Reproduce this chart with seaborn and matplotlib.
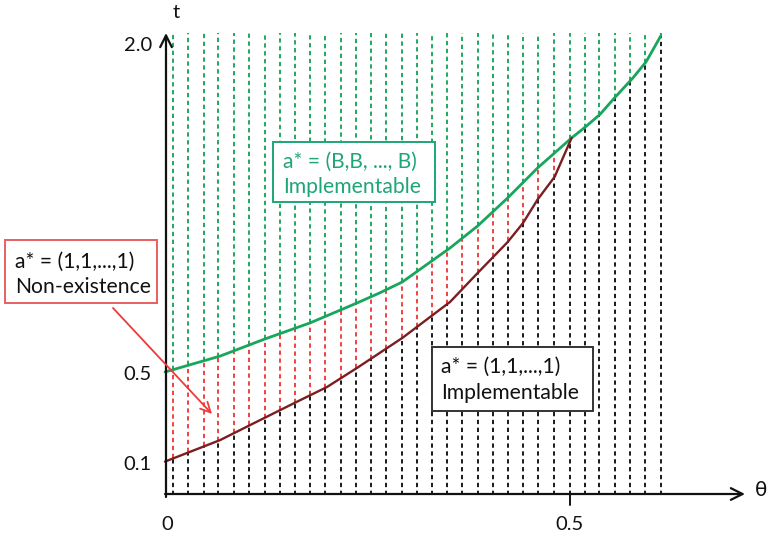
import numpy as np
import pandas as pd
import matplotlib
matplotlib.use("Agg")
import matplotlib.pyplot as plt
from matplotlib.patches import Rectangle
import seaborn as sns

# ---------------- data ----------------
green_theta = [0.000, 0.068, 0.123, 0.179, 0.237, 0.265, 0.293, 0.352, 0.386,
               0.423, 0.460, 0.502, 0.519, 0.537, 0.556, 0.577, 0.594, 0.612]
green_t = [0.500, 0.571, 0.647, 0.719, 0.808, 0.853, 0.902, 1.054, 1.152,
           1.277, 1.411, 1.545, 1.594, 1.650, 1.728, 1.810, 1.885, 2.000]

brown_theta = [0.000, 0.068, 0.105, 0.160, 0.200, 0.237, 0.293, 0.352, 0.386,
               0.423, 0.442, 0.460, 0.481, 0.502]
brown_t = [0.100, 0.196, 0.263, 0.362, 0.433, 0.518, 0.652, 0.813, 0.942,
           1.080, 1.165, 1.270, 1.371, 1.545]

grid_theta = [0.010, 0.029, 0.048, 0.066, 0.085, 0.104, 0.123, 0.142, 0.160,
              0.179, 0.198, 0.217, 0.236, 0.254, 0.273, 0.292, 0.311, 0.330,
              0.348, 0.367, 0.386, 0.405, 0.424, 0.442, 0.461, 0.480, 0.500,
              0.518, 0.536, 0.555, 0.574, 0.593, 0.612]

y_tick_values = [0.1, 0.5, 2.0]
y_tick_labels = ["0.1", "0.5", "2.0"]
x_tick_values = [0.0, 0.5]
x_tick_labels = ["0", "0.5"]

GREEN = "#19a55c"
GREEN_TXT = "#1fa676"
BROWN = "#7a1e22"
RED = "#ee3a3a"
BLACK = "#111111"

# ---------------- figure ----------------
sns.set_theme(style="white")
plt.rcParams['font.family'] = ['Lato', 'DejaVu Sans']

fig = plt.figure(figsize=(7.69, 5.40), dpi=100)
ax = fig.add_axes([0, 0, 1, 1])
ax.set_xlim(-165 / 810, (769 - 165) / 810)
ax.set_ylim((484 - 540) / 224, 484 / 224)
ax.axis("off")


def px(x):
    return (x - 165) / 810


def py(y):
    return (484 - y) / 224


t_bottom = py(495)
t_top = py(33)

# dashed vertical lines, coloured by region
dash = dict(linestyles=(0, (2.3, 1.9)), linewidth=1.35)
for th in grid_theta:
    g = float(np.interp(th, green_theta, green_t))
    if th <= brown_theta[-1]:
        b = float(np.interp(th, brown_theta, brown_t))
    else:
        b = g
    ax.vlines(th, t_bottom, b, colors=BLACK, **dash)
    if g - b > 1e-3:
        ax.vlines(th, b, g, colors=RED, **dash)
    ax.vlines(th, g, t_top, colors=GREEN, **dash)

# curves
sns.lineplot(x=green_theta, y=green_t, color=GREEN, lw=2.0, ax=ax, legend=False)
sns.lineplot(x=brown_theta, y=brown_t, color=BROWN, lw=1.7, ax=ax, legend=False)

# axes with arrows
ax.annotate("", xy=(px(745), py(494)), xytext=(px(165), py(494)),
            arrowprops=dict(arrowstyle="->,head_length=0.7,head_width=0.35",
                            lw=1.6, color=BLACK, shrinkA=0, shrinkB=0))
ax.annotate("", xy=(px(166), py(33)), xytext=(px(166), py(497)),
            arrowprops=dict(arrowstyle="->,head_length=0.7,head_width=0.35",
                            lw=1.6, color=BLACK, shrinkA=0, shrinkB=0))
ax.plot([0.5, 0.5], [py(494), py(505)], color=BLACK, lw=1.4)

fs = 14.5
for v, lab in zip(y_tick_values, y_tick_labels):
    ypix = {0.1: 465, 0.5: 374, 2.0: 46}[v]
    ax.text(px(152), py(ypix), lab, ha="right", va="center", fontsize=fs, color=BLACK)
for v, lab in zip(x_tick_values, x_tick_labels):
    ax.text(px(167) if v == 0 else v, py(525), lab, ha="center", va="center",
            fontsize=fs, color=BLACK)
ax.text(px(176), py(13), "t", ha="center", va="center", fontsize=fs, color=BLACK)
ax.text(px(761), py(490), "θ", ha="center", va="center", fontsize=fs,
        color=BLACK, family=['DejaVu Sans'])


def box(x0, y0, x1, y1, edge, lines, tcolor, tx, ty):
    ax.add_patch(Rectangle((px(x0), py(y1)), px(x1) - px(x0), py(y0) - py(y1),
                           facecolor="white", edgecolor=edge, lw=1.4, zorder=5))
    for s, yy in zip(lines, ty):
        ax.text(px(tx), py(yy), s, ha="left", va="center", fontsize=15.2,
                color=tcolor, zorder=6)


box(273, 142, 435, 202, GREEN_TXT, ["a* = (B,B, ..., B)", "Implementable"],
    GREEN_TXT, 283, [162, 187])
box(5, 240, 157, 303, "#e86060", ["a* = (1,1,...,1)", "Non-existence"],
    BLACK, 15, [262, 287])
box(432, 347, 593, 411, "#333333", ["a* = (1,1,...,1)", "Implementable"],
    BLACK, 441, [367, 393])

ax.annotate("", xy=(px(212), py(414)), xytext=(px(113), py(308)),
            arrowprops=dict(arrowstyle="->,head_length=0.6,head_width=0.3",
                            lw=1.3, color=RED, shrinkA=0, shrinkB=0), zorder=7)

fig.savefig("out.png", dpi=100)
